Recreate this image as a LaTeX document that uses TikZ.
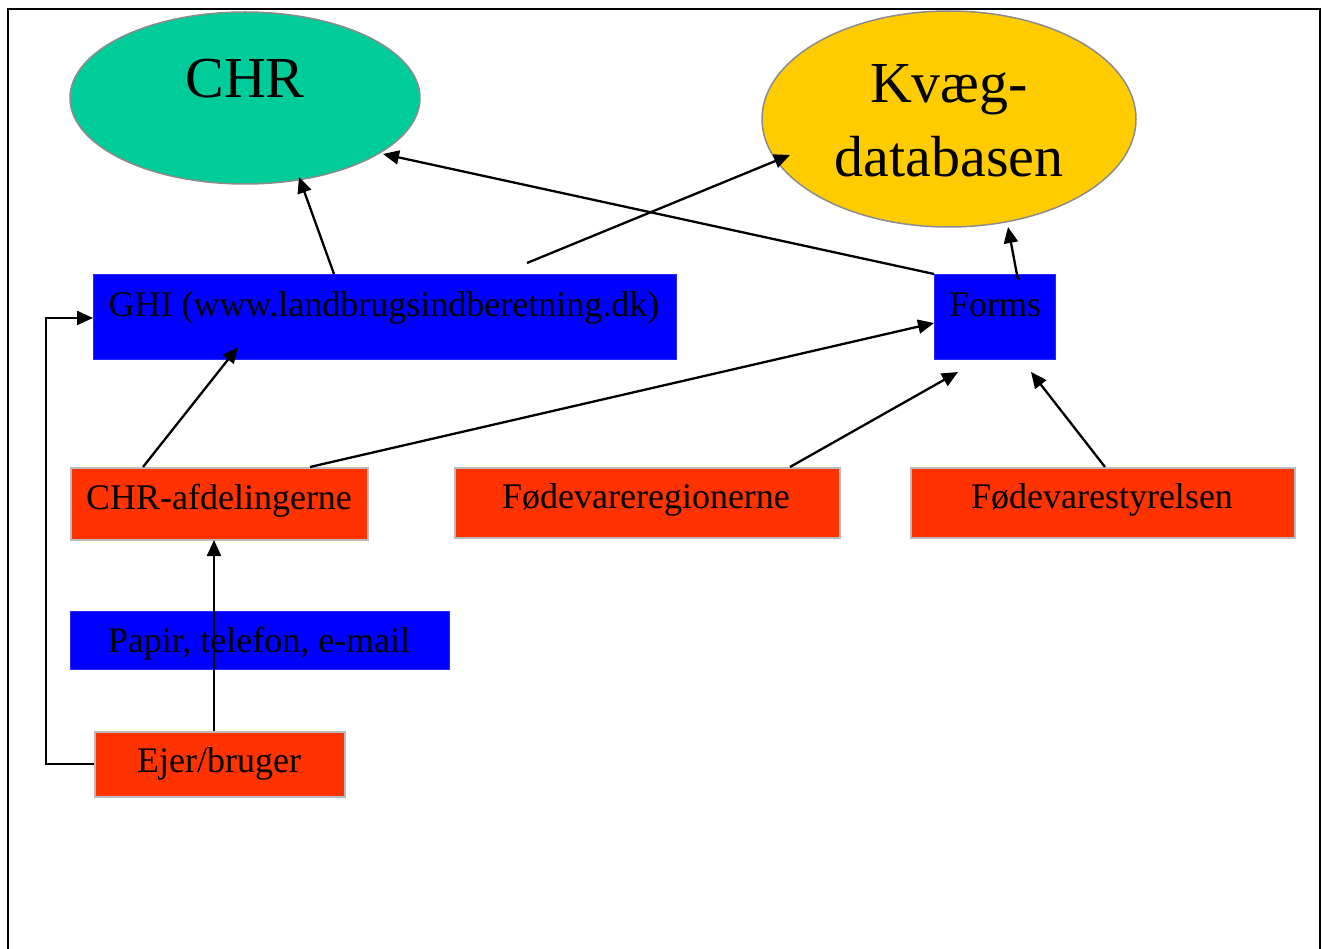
\documentclass[tikz,border=0pt]{standalone}
\usepackage{fontspec}
\setmainfont{Liberation Serif}
\usetikzlibrary{arrows.meta,calc}
\definecolor{chrgreen}{HTML}{00CC99}
\definecolor{kvyellow}{HTML}{FFCC00}
\definecolor{redbox}{HTML}{FF3300}
\definecolor{bluebox}{HTML}{0000FF}
\definecolor{ellborder}{HTML}{8C8C8C}
\definecolor{redborder}{HTML}{BBBBBB}
\begin{document}
\begin{tikzpicture}[x=1pt,y=-1pt,
  bluerect/.style={rectangle, fill=bluebox, draw=bluebox!85!white, line width=0.8pt, inner sep=0pt, anchor=north west},
  redrect/.style={rectangle, fill=redbox, draw=redborder, line width=1.8pt, inner sep=0pt, anchor=north west},
  txt/.style={anchor=base, inner sep=0pt, font=\fontsize{36}{40}\selectfont},
  bigtxt/.style={anchor=base, inner sep=0pt, font=\fontsize{58}{64}\selectfont},
  conn/.style={line width=2.3pt, -{Triangle[length=16pt,width=14pt]}},
]
\useasboundingbox (0,0) rectangle (1322,949);
% frame
\draw[line width=2.4pt] (8,952) -- (8,9) -- (1320,9) -- (1320,952);

% ellipses
\fill[chrgreen] (245,98) ellipse [x radius=175, y radius=86];
\draw[ellborder, line width=1.5pt] (245,98) ellipse [x radius=175, y radius=86];
\node[bigtxt] (chrt) at (245,98) {CHR};

\fill[kvyellow] (949,119) ellipse [x radius=187, y radius=108];
\draw[ellborder, line width=1.5pt] (949,119) ellipse [x radius=187, y radius=108];
\node[bigtxt] (kv1) at (949,103) {Kvæg-};
\node[bigtxt] (kv2) at (949,177) {databasen};

% boxes
\node[bluerect, minimum width=583pt, minimum height=85pt] (ghi) at (93,274) {};
\node[txt] (ghit) at (384,317) {GHI (www.landbrugsindberetning.dk)};

\node[bluerect, minimum width=121pt, minimum height=85pt] (forms) at (934,274) {};
\node[txt] (formst) at (995,317) {Forms};

\node[redrect, minimum width=297pt, minimum height=72pt] (afd) at (70,467) {};
\node[txt] (afdt) at (219,509) {CHR-afdelingerne};

\node[redrect, minimum width=385pt, minimum height=70pt] (reg) at (454,467) {};
\node[txt] (regt) at (646,508) {Fødevareregionerne};

\node[redrect, minimum width=384pt, minimum height=70pt] (sty) at (910,467) {};
\node[txt] (styt) at (1102,508) {Fødevarestyrelsen};

\node[bluerect, minimum width=379pt, minimum height=58pt] (pap) at (70,611) {};
\node[txt] (papt) at (259,652) {Papir, telefon, e-mail};

\node[redrect, minimum width=250pt, minimum height=65pt] (ejer) at (94,731) {};
\node[txt] (ejert) at (219,772) {Ejer/bruger};

% connector end points
\coordinate (a1s) at (334,274);   \coordinate (a1e) at (299,177);
\coordinate (a2s) at (527,263);   \coordinate (a2e) at (790,155);
\coordinate (a3s) at (934,274);   \coordinate (a3e) at (383,154);
\coordinate (a4s) at (1018,280);  \coordinate (a4e) at (1008,227);
\coordinate (a5s) at (143,467);   \coordinate (a5e) at (238,347);
\coordinate (a6s) at (310,467);   \coordinate (a6e) at (934,323);
\coordinate (a7s) at (790,467);   \coordinate (a7e) at (958,372);
\coordinate (a8s) at (1105,467);  \coordinate (a8e) at (1031,372);
\coordinate (a9s) at (214,731);   \coordinate (a9e) at (214,540);
\coordinate (b1) at (46,764);     \coordinate (b2) at (46,318);
\coordinate (a10e) at (93,318);

\draw[conn] (a1s) -- (a1e);
\draw[conn] (a2s) -- (a2e);
\draw[conn] (a3s) -- (a3e);
\draw[conn] (a4s) -- (a4e);
\draw[conn] (a5s) -- (a5e);
\draw[conn] (a6s) -- (a6e);
\draw[conn] (a7s) -- (a7e);
\draw[conn] (a8s) -- (a8e);
\draw[conn] (a9s) -- (a9e);
\draw[conn] (ejer.west |- b1) -- (b1) -- (b2) -- (a10e);
\end{tikzpicture}
\end{document}
